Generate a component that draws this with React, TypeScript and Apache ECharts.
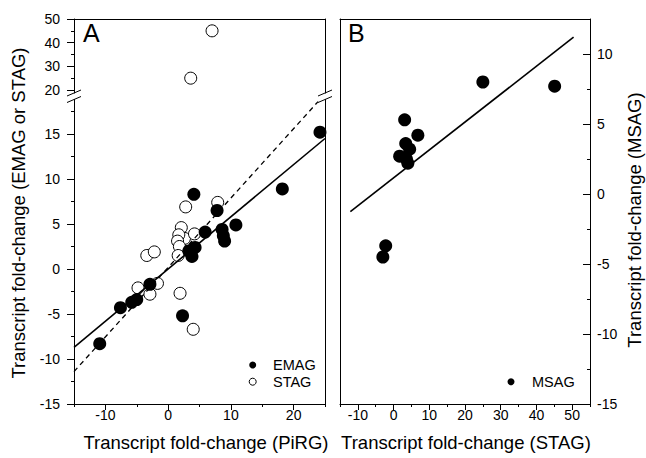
import React, { useEffect, useRef } from "react";
import * as echarts from "echarts";

// ---- data ----
const emag: number[][] = [
  [24.2, 15.2], [18.2, 8.9], [4.1, 8.3], [7.8, 6.5], [10.8, 4.9], [8.6, 4.4],
  [8.8, 3.7], [9.0, 3.1], [5.9, 4.1], [4.3, 2.4], [3.3, 2.0], [3.8, 1.4],
  [-2.9, -1.7], [-5.0, -3.4], [-5.8, -3.7], [-7.6, -4.3], [-10.9, -8.3], [2.3, -5.2],
];
const stag: number[][] = [
  [7.0, 45], [3.6, 25], [7.9, 7.4], [2.8, 6.9], [2.1, 4.6], [2.6, 3.4],
  [1.7, 3.8], [1.5, 3.1], [4.2, 3.9], [1.8, 2.5], [1.6, 1.5], [-3.4, 1.5],
  [-2.2, 1.9], [-4.8, -2.1], [-2.9, -2.8], [-1.7, -1.6], [1.9, -2.7], [4.0, -6.7],
];
const msag: number[][] = [
  [25, 8.0], [45.1, 7.7], [3.1, 5.3], [6.8, 4.2], [3.4, 3.6], [4.5, 3.2],
  [1.7, 2.7], [4.0, 2.2], [3.6, 2.5], [-2.2, -3.7], [-3.0, -4.5],
];
const fitSolidA: number[][] = [[-15, -8.7], [25, 14.5]];
const fitDashedA: number[][] = [[-15, -11.4], [23.9, 18.6]];
const fitB: number[][] = [[-12.1, -1.26], [50.4, 11.2]];

const xTicksA = [-10, 0, 10, 20];
const xMinorA = [-15, -5, 5, 15, 25];
const yTicksUpA = [20, 30, 40, 50];
const yMinorUpA = [25, 35, 45];
const yTicksLowA = [-15, -10, -5, 0, 5, 10, 15];
const yMinorLowA = [-12.5, -7.5, -2.5, 2.5, 7.5, 12.5, 17.5];
const xTicksB = [-10, 0, 10, 20, 30, 40, 50];
const xMinorB = [-15, -5, 5, 15, 25, 35, 45, 55];
const yTicksB = [-15, -10, -5, 0, 5, 10];
const yMinorB = [-12.5, -7.5, -2.5, 2.5, 7.5];

const FONT = "'Liberation Sans', Arial, Helvetica, sans-serif";
const BLACK = "#000";

function App() {
  const ref = useRef<HTMLDivElement>(null);

  useEffect(() => {
    if (!ref.current) return;
    const chart = echarts.init(ref.current, undefined, { renderer: "svg" });

    const line = { show: true, onZero: false, lineStyle: { color: BLACK, width: 1 } };
    const noLine = { show: false, onZero: false };
    const lbl = (vals: number[], margin: number) => ({
      show: true, customValues: vals, margin, color: BLACK, fontSize: 14, fontFamily: FONT,
    });
    const tick = (vals: number[], len: number, inside = false) => ({
      show: true, customValues: vals, length: len, inside, lineStyle: { color: BLACK, width: 1 },
    });
    const base = (extra: any) => ({
      type: "value", splitLine: { show: false }, axisLabel: { show: false },
      axisTick: { show: false }, axisLine: noLine, ...extra,
    });

    const upper = stag.filter((d) => d[1] > 19);
    const lower = stag.filter((d) => d[1] <= 19);

    const option: any = {
      animation: false,
      grid: [
        { left: 74, top: 19, width: 251, height: 74 },
        { left: 74, top: 99.5, width: 251, height: 304.5 },
        { left: 340, top: 19, width: 250, height: 385 },
      ],
      xAxis: [
        base({ gridIndex: 0, position: "top", min: -15, max: 25, axisLine: line }),
        base({ gridIndex: 1, position: "bottom", min: -15, max: 25, axisLine: line,
          axisLabel: lbl(xTicksA, 4), axisTick: tick(xTicksA, 6) }),
        base({ gridIndex: 1, position: "bottom", min: -15, max: 25, axisTick: tick(xMinorA, 3) }),
        base({ gridIndex: 2, position: "bottom", min: -15, max: 55, axisLine: line,
          axisLabel: lbl(xTicksB, 4), axisTick: tick(xTicksB, 6) }),
        base({ gridIndex: 2, position: "bottom", min: -15, max: 55, axisTick: tick(xMinorB, 3) }),
        base({ gridIndex: 2, position: "top", min: -15, max: 55, axisLine: line }),
      ],
      yAxis: [
        base({ gridIndex: 0, position: "left", min: 18.73, max: 50, axisLine: line,
          axisLabel: lbl(yTicksUpA, 14), axisTick: tick(yTicksUpA, 7) }),
        base({ gridIndex: 0, position: "left", min: 18.73, max: 50, axisTick: tick(yMinorUpA, 3) }),
        base({ gridIndex: 0, position: "right", min: 18.73, max: 50, axisLine: line }),
        base({ gridIndex: 1, position: "left", min: -15, max: 18.833, axisLine: line,
          axisLabel: lbl(yTicksLowA, 14), axisTick: tick(yTicksLowA, 7) }),
        base({ gridIndex: 1, position: "left", min: -15, max: 18.833, axisTick: tick(yMinorLowA, 3) }),
        base({ gridIndex: 1, position: "right", min: -15, max: 18.833, axisLine: line }),
        base({ gridIndex: 2, position: "right", min: -15, max: 12.5, axisLine: line,
          axisLabel: lbl(yTicksB, 7), axisTick: tick(yTicksB, 7, true) }),
        base({ gridIndex: 2, position: "right", min: -15, max: 12.5, axisTick: tick(yMinorB, 3, true) }),
        base({ gridIndex: 2, position: "left", min: -15, max: 12.5, axisLine: line }),
      ],
      series: [
        { type: "scatter", name: "STAG", xAxisIndex: 0, yAxisIndex: 0, data: upper, symbolSize: 12,
          itemStyle: { color: "#fff", borderColor: BLACK, borderWidth: 1, opacity: 1 }, silent: true },
        { type: "scatter", name: "STAG", xAxisIndex: 1, yAxisIndex: 3, data: lower, symbolSize: 12,
          itemStyle: { color: "#fff", borderColor: BLACK, borderWidth: 1, opacity: 1 }, silent: true },
        { type: "scatter", name: "EMAG", xAxisIndex: 1, yAxisIndex: 3, data: emag, symbolSize: 13,
          itemStyle: { color: BLACK, opacity: 1 }, silent: true },
        { type: "line", xAxisIndex: 1, yAxisIndex: 3, data: fitSolidA, symbol: "none", silent: true,
          lineStyle: { color: BLACK, width: 1.6 } },
        { type: "line", xAxisIndex: 1, yAxisIndex: 3, data: fitDashedA, symbol: "none", silent: true,
          lineStyle: { color: BLACK, width: 1.3, type: [5, 4] } },
        { type: "scatter", name: "MSAG", xAxisIndex: 3, yAxisIndex: 6, data: msag, symbolSize: 13,
          itemStyle: { color: BLACK, opacity: 1 }, silent: true },
        { type: "line", xAxisIndex: 3, yAxisIndex: 6, data: fitB, symbol: "none", silent: true,
          lineStyle: { color: BLACK, width: 1.6 } },
      ],
      graphic: [
        // break marks
        { type: "line", shape: { x1: 67, y1: 96, x2: 81, y2: 90 }, style: { stroke: BLACK, lineWidth: 1 } },
        { type: "line", shape: { x1: 67, y1: 102.5, x2: 81, y2: 96.5 }, style: { stroke: BLACK, lineWidth: 1 } },
        { type: "line", shape: { x1: 318, y1: 96, x2: 332, y2: 90 }, style: { stroke: BLACK, lineWidth: 1 } },
        { type: "line", shape: { x1: 318, y1: 102.5, x2: 332, y2: 96.5 }, style: { stroke: BLACK, lineWidth: 1 } },
        // panel letters
        { type: "text", x: 83, y: 45, style: { text: "A", font: `25px ${FONT}`, fill: BLACK, textVerticalAlign: "bottom" } },
        { type: "text", x: 348, y: 45, style: { text: "B", font: `25px ${FONT}`, fill: BLACK, textVerticalAlign: "bottom" } },
        // legends
        { type: "circle", shape: { cx: 252.7, cy: 365, r: 3.5 }, style: { fill: BLACK } },
        { type: "text", x: 273, y: 365, style: { text: "EMAG", font: `14.5px ${FONT}`, fill: BLACK, textVerticalAlign: "middle" } },
        { type: "circle", shape: { cx: 252.7, cy: 381.7, r: 3.5 }, style: { fill: "#fff", stroke: BLACK, lineWidth: 1 } },
        { type: "text", x: 273, y: 381.7, style: { text: "STAG", font: `14.5px ${FONT}`, fill: BLACK, textVerticalAlign: "middle" } },
        { type: "circle", shape: { cx: 511, cy: 381.7, r: 3.5 }, style: { fill: BLACK } },
        { type: "text", x: 532, y: 381.7, style: { text: "MSAG", font: `14.5px ${FONT}`, fill: BLACK, textVerticalAlign: "middle" } },
        // axis titles
        { type: "text", x: 206, y: 442, style: { text: "Transcript fold-change (PiRG)", font: `18.5px ${FONT}`, fill: BLACK, textAlign: "center", textVerticalAlign: "middle" } },
        { type: "text", x: 466, y: 442, style: { text: "Transcript fold-change (STAG)", font: `18.5px ${FONT}`, fill: BLACK, textAlign: "center", textVerticalAlign: "middle" } },
        { type: "text", x: 18, y: 213, rotation: Math.PI / 2, style: { text: "Transcript fold-change (EMAG or STAG)", font: `18.5px ${FONT}`, fill: BLACK, textAlign: "center", textVerticalAlign: "middle" } },
        { type: "text", x: 634, y: 220, rotation: Math.PI / 2, style: { text: "Transcript fold-change (MSAG)", font: `18.5px ${FONT}`, fill: BLACK, textAlign: "center", textVerticalAlign: "middle" } },
      ],
    };

    chart.setOption(option);
    return () => chart.dispose();
  }, []);

  return (
    <div
      ref={ref}
      style={{ position: "fixed", left: 0, top: 0, width: 646, height: 458, background: "#fff" }}
    />
  );
}

export default App;
